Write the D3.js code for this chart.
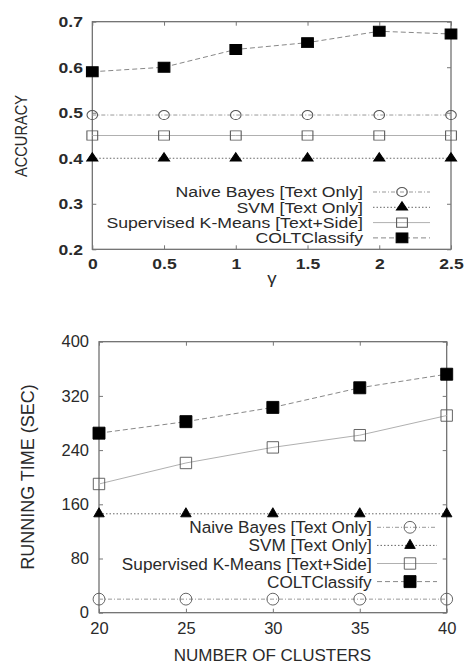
<!DOCTYPE html>
<html>
<head>
<meta charset="utf-8">
<script src="https://cdn.jsdelivr.net/npm/d3@7"></script>
<style>
  body { margin: 0; background: #fff; }
  text { font-family: "Liberation Sans", Arial, sans-serif; fill: #2a2a2a; }
</style>
</head>
<body>
<div id="chart"></div>
<script>
// series names (legend order)
const seriesNames = [
    "Naive Bayes [Text Only]",
    "SVM [Text Only]",
    "Supervised K-Means [Text+Side]",
    "COLTClassify"
];

// top panel: accuracy vs gamma
const gammas = [0, 0.5, 1, 1.5, 2, 2.5];
const accNB = [0.495, 0.495, 0.495, 0.495, 0.495, 0.495];
const accSVM = [0.40, 0.40, 0.40, 0.40, 0.40, 0.40];
const accSKM = [0.45, 0.45, 0.45, 0.45, 0.45, 0.45];
const accCOLT = [0.59, 0.60, 0.639, 0.654, 0.679, 0.673];
const accTicks = [0.2, 0.3, 0.4, 0.5, 0.6, 0.7];

// bottom panel: running time vs number of clusters
const clusters = [20, 25, 30, 35, 40];
const timeNB = [20, 20, 20, 20, 20];
const timeSVM = [146, 146, 146, 146, 146];
const timeSKM = [190, 221, 244, 262, 291];
const timeCOLT = [265, 282, 303, 332, 352];
const timeTicks = [0, 80, 160, 240, 320, 400];

// line + marker style per series
const styles = [
    { dash: "4,2,1,2", stroke: "#999", shape: d3.symbolCircle, fill: "none" },
    { dash: "1.5,2", stroke: "#666", shape: d3.symbolTriangle, fill: "#000" },
    { dash: null, stroke: "#b0b0b0", shape: d3.symbolSquare, fill: "none" },
    { dash: "5,3", stroke: "#888", shape: d3.symbolSquare, fill: "#000" }
];

const svg = d3.select('#chart').append('svg')
    .attr('width', 465)
    .attr('height', 666);

function drawPanel(p) {
    const x = d3.scaleLinear().domain(p.xDomain).range([p.left, p.right]);
    const y = d3.scaleLinear().domain(p.yDomain).range([p.bottom, p.top]);
    const g = svg.append('g');
    const sx = p.stretch;

    // frame
    g.append('rect')
        .attr('x', p.left).attr('y', p.top)
        .attr('width', p.right - p.left).attr('height', p.bottom - p.top)
        .attr('fill', 'none').attr('stroke', '#666').attr('stroke-width', 1.2);

    // axes with inward ticks, mirrored on top/right
    const styleAxis = (sel, size, weight) => {
        sel.select('.domain').remove();
        sel.selectAll('line').attr('stroke', '#777');
        sel.selectAll('text')
            .attr('font-family', '"Liberation Sans", Arial, sans-serif')
            .attr('font-size', size).attr('font-weight', weight)
            .attr('fill', '#2a2a2a')
            .attr('transform', `scale(${sx},1)`);
    };
    g.append('g').attr('transform', `translate(0,${p.bottom})`)
        .call(d3.axisBottom(x).tickValues(p.xTicks).tickFormat(d3.format(''))
            .tickSizeInner(-4).tickSizeOuter(0).tickPadding(p.xPad))
        .call(s => styleAxis(s, p.tickFont, p.tickWeight));
    g.append('g').attr('transform', `translate(${p.left},0)`)
        .call(d3.axisLeft(y).tickValues(p.yTicks).tickFormat(d3.format(p.yFormat))
            .tickSizeInner(-4).tickSizeOuter(0).tickPadding(p.yPad))
        .call(s => styleAxis(s, p.tickFont, p.tickWeight));
    g.append('g').attr('transform', `translate(0,${p.top})`)
        .call(d3.axisTop(x).tickValues(p.xTicks).tickFormat('').tickSizeInner(-4).tickSizeOuter(0))
        .call(s => { s.select('.domain').remove(); s.selectAll('line').attr('stroke', '#777'); });
    g.append('g').attr('transform', `translate(${p.right},0)`)
        .call(d3.axisRight(y).tickValues(p.yTicks).tickFormat('').tickSizeInner(-4).tickSizeOuter(0))
        .call(s => { s.select('.domain').remove(); s.selectAll('line').attr('stroke', '#777'); });

    // series lines and markers
    p.series.forEach((vals, i) => {
        const st = styles[i];
        const pts = p.xVals.map((xv, j) => [x(xv), y(vals[j])]);
        g.append('path')
            .attr('d', d3.line()(pts))
            .attr('fill', 'none').attr('stroke', st.stroke).attr('stroke-width', 1)
            .attr('stroke-dasharray', st.dash);
        g.selectAll(null).data(pts).join('path')
            .attr('d', d3.symbol(st.shape, p.sizes[i]))
            .attr('transform', d => `translate(${d[0]},${d[1]}) scale(${sx},1)`)
            .attr('fill', st.fill).attr('stroke', st.fill === 'none' ? '#555' : '#000')
            .attr('stroke-width', 0.9);
    });

    // legend
    const leg = g.append('g').selectAll('g').data(seriesNames).join('g')
        .attr('transform', (d, i) => `translate(0,${p.legY + i * p.legStep})`);
    leg.append('text')
        .attr('text-anchor', 'end').attr('dy', '0.35em')
        .attr('font-size', p.legFont)
        .attr('transform', `translate(${p.legTextX},0) scale(${sx},1)`)
        .text(d => d);
    leg.append('line')
        .attr('x1', p.legLine[0]).attr('x2', p.legLine[1])
        .attr('stroke', (d, i) => styles[i].stroke)
        .attr('stroke-dasharray', (d, i) => styles[i].dash);
    leg.append('path')
        .attr('d', (d, i) => d3.symbol(styles[i].shape, p.sizes[i])())
        .attr('transform', `translate(${p.legMarkX},0) scale(${sx},1)`)
        .attr('fill', (d, i) => styles[i].fill)
        .attr('stroke', (d, i) => styles[i].fill === 'none' ? '#555' : '#000')
        .attr('stroke-width', 0.9);

    // axis titles
    g.append('text')
        .attr('text-anchor', 'middle').attr('font-size', p.titleFont)
        .attr('transform', `translate(${p.xTitle[0]},${p.xTitle[1]}) scale(${sx},1)`)
        .text(p.xLabel);
    g.append('text')
        .attr('text-anchor', 'middle').attr('font-size', p.yTitleFont).attr('dy', '0.35em')
        .attr('transform', `translate(${p.yTitle[0]},${p.yTitle[1]}) rotate(-90) scale(1,${sx})`)
        .text(p.yLabel);
}

drawPanel({
    left: 92.3, right: 451, top: 21.7, bottom: 249.3,
    xDomain: [0, 2.5], yDomain: [0.2, 0.7],
    xTicks: gammas, yTicks: accTicks, yFormat: '.1f',
    xVals: gammas, series: [accNB, accSVM, accSKM, accCOLT],
    stretch: 1.17, tickFont: 15, tickWeight: 'bold', xPad: 9, yPad: 8,
    sizes: [64, 40, 85, 100],
    legY: 192, legStep: 15.3, legFont: 15.1, legTextX: 363,
    legLine: [373, 430], legMarkX: 402,
    xLabel: 'γ', xTitle: [272, 284], titleFont: 16,
    yLabel: 'ACCURACY', yTitle: [21, 136], yTitleFont: 14.6
});

drawPanel({
    left: 99, right: 446.7, top: 341.7, bottom: 612.7,
    xDomain: [20, 40], yDomain: [0, 400],
    xTicks: clusters, yTicks: timeTicks, yFormat: 'd',
    xVals: clusters, series: [timeNB, timeSVM, timeSKM, timeCOLT],
    stretch: 1, tickFont: 16.5, tickWeight: 'normal', xPad: 10, yPad: 10,
    sizes: [110, 48, 130, 144],
    legY: 527.3, legStep: 18.1, legFont: 17.2, legTextX: 371.7,
    legLine: [377, 437], legMarkX: 410,
    xLabel: 'NUMBER OF CLUSTERS', xTitle: [272.5, 661], titleFont: 17,
    yLabel: 'RUNNING TIME (SEC)', yTitle: [27.5, 477], yTitleFont: 18
});
</script>
</body>
</html>
